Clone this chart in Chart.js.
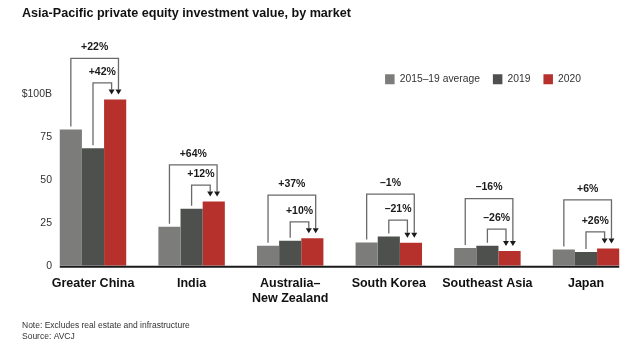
<!DOCTYPE html>
<html>
<head>
<meta charset="utf-8">
<script src="https://cdn.jsdelivr.net/npm/chart.js@4.4.1/dist/chart.umd.min.js"></script>
<style>
  body { margin: 0; background: #fff; }
  #wrap { width: 640px; height: 348px; }
</style>
</head>
<body>
<div id="wrap"><canvas id="peChart" width="640" height="348"></canvas></div>
<script>
// Investment value by market, $B
const markets = ['Greater China', 'India', ['Australia–', 'New Zealand'], 'South Korea', 'Southeast Asia', 'Japan'];
const avg1519 = [79.5, 22.8, 11.7, 13.6, 10.3, 9.5];
const value2019 = [68.5, 33.3, 14.5, 17.0, 11.7, 8.0];
const value2020 = [97, 37.4, 16.0, 13.45, 8.65, 10.1];
const yTicks = [0, 25, 50, 75, 100];
const seriesNames = ['2015–19 average', '2019', '2020'];
const seriesColors = ['#7c7d7b', '#4e504e', '#b6312b'];

// vertical room (px) between inner and outer bracket for each market
const outerGap = [24.5, 20.3, 26.7, 26, 30.6, 32];

Chart.defaults.font.family = "'Liberation Sans', Arial, sans-serif";
Chart.defaults.color = '#222';

function pctLabel(from, to) {
    const p = Math.round((to / from - 1) * 100);
    return (p < 0 ? '–' : '+') + Math.abs(p) + '%';
}

// push the legend left so it sits over the middle-right of the plot
const legendShift = {
    id: 'legendShift',
    afterLayout(chart) {
        const lg = chart.legend;
        const dx = 594 - lg.right;
        lg.left += dx;
        lg.right += dx;
    }
};

function drawBracket(ctx, x0, y0, top, x1, tip) {
    ctx.beginPath();
    ctx.moveTo(x0, y0);
    ctx.lineTo(x0, top);
    ctx.lineTo(x1, top);
    ctx.lineTo(x1, tip - 5);
    ctx.stroke();
    ctx.beginPath();
    ctx.moveTo(x1 - 3, tip - 5);
    ctx.lineTo(x1 + 3, tip - 5);
    ctx.lineTo(x1, tip);
    ctx.closePath();
    ctx.fill();
}

// y tick labels, right-aligned just left of the first bar
const yLabels = {
    id: 'yLabels',
    afterDraw(chart) {
        const ctx = chart.ctx;
        const yScale = chart.scales.y;
        ctx.save();
        ctx.fillStyle = '#333';
        ctx.font = "10.5px 'Liberation Sans', Arial, sans-serif";
        ctx.textAlign = 'right';
        ctx.textBaseline = 'middle';
        yTicks.forEach(v => {
            ctx.fillText(v === 100 ? '$100B' : String(v), 52, yScale.getPixelForValue(v));
        });
        ctx.restore();
    }
};

// baseline + growth brackets with arrows pointing at the 2020 bar
const changeBrackets = {
    id: 'changeBrackets',
    afterDatasetsDraw(chart) {
        const ctx = chart.ctx;
        const yScale = chart.scales.y;
        const avgBars = chart.getDatasetMeta(0).data;
        const bars19 = chart.getDatasetMeta(1).data;
        const bars20 = chart.getDatasetMeta(2).data;
        ctx.save();

        const base = yScale.getPixelForValue(0) + 1;
        const first = avgBars[0], last = bars20[bars20.length - 1];
        ctx.strokeStyle = '#1a1a1a';
        ctx.lineWidth = 2;
        ctx.beginPath();
        ctx.moveTo(first.x - first.width / 2, base);
        ctx.lineTo(last.x + last.width / 2, base);
        ctx.stroke();

        ctx.strokeStyle = '#6a6a6a';
        ctx.fillStyle = '#1a1a1a';
        ctx.lineWidth = 1.3;
        ctx.font = "bold 10.5px 'Liberation Sans', Arial, sans-serif";
        ctx.textAlign = 'center';
        ctx.textBaseline = 'middle';
        markets.forEach((m, i) => {
            const a = avgBars[i], b = bars19[i], c = bars20[i];
            const cLeft = c.x - c.width / 2;
            const tip = c.y - 5;
            const innerY = Math.min(b.y, c.y) - 16.5;
            const outerY = innerY - outerGap[i];
            const xOut = cLeft + c.width * 0.65;
            const xIn = cLeft + c.width * 0.34;
            drawBracket(ctx, a.x, a.y - 3, outerY, xOut, tip);
            drawBracket(ctx, b.x, b.y - 3, innerY, xIn, tip);
            ctx.fillText(pctLabel(avg1519[i], value2020[i]), (a.x + xOut) / 2, outerY - 11);
            ctx.fillText(pctLabel(value2019[i], value2020[i]), (b.x + xIn) / 2, innerY - 11);
        });
        ctx.restore();
    }
};

const seriesData = [avg1519, value2019, value2020];

new Chart(document.getElementById('peChart'), {
    type: 'bar',
    data: {
        labels: markets,
        datasets: seriesNames.map((name, k) => ({
            label: name,
            data: seriesData[k],
            backgroundColor: seriesColors[k],
            categoryPercentage: 0.674,
            barPercentage: 1
        }))
    },
    options: {
        responsive: false,
        animation: false,
        devicePixelRatio: 1,
        layout: { padding: { left: 22, right: 4.7, top: 0, bottom: 0 } },
        plugins: {
            title: {
                display: true,
                text: 'Asia-Pacific private equity investment value, by market',
                align: 'start',
                color: '#111',
                font: { size: 12.6, weight: 'bold' },
                padding: { top: 6.4, bottom: 39.5 }
            },
            subtitle: {
                display: true,
                position: 'bottom',
                align: 'start',
                text: ['Note: Excludes real estate and infrastructure', 'Source: AVCJ'],
                color: '#333',
                font: { size: 8.5, lineHeight: 1.3 },
                padding: { top: 3.8, bottom: 5.4 }
            },
            legend: {
                position: 'top',
                align: 'end',
                labels: {
                    boxWidth: 9.5,
                    boxHeight: 10,
                    padding: 13,
                    color: '#333',
                    font: { size: 10.3 }
                }
            },
            tooltip: { enabled: false }
        },
        scales: {
            x: {
                grid: { display: false, drawTicks: false },
                border: { display: false },
                ticks: {
                    color: '#111',
                    padding: 10.5,
                    maxRotation: 0,
                    minRotation: 0,
                    autoSkip: false,
                    font: { size: 12.5, weight: 'bold', lineHeight: 1.2 }
                }
            },
            y: {
                min: 0,
                max: 100,
                grid: { display: false, drawTicks: false },
                border: { display: false },
                afterFit(scale) { scale.width = 21.7; },
                afterBuildTicks(scale) { scale.ticks = yTicks.map(v => ({ value: v })); },
                ticks: { display: false }
            }
        }
    },
    plugins: [legendShift, changeBrackets, yLabels]
});
</script>
</body>
</html>
